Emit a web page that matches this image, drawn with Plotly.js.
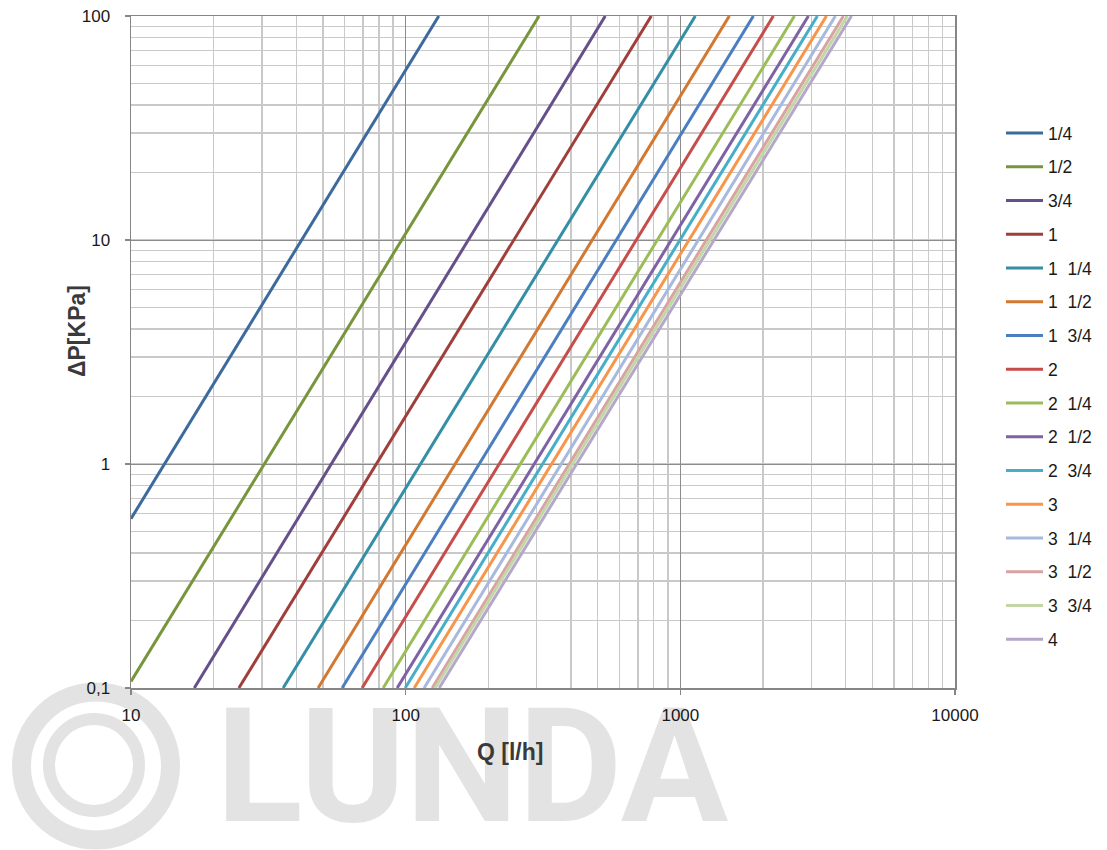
<!DOCTYPE html>
<html>
<head>
<meta charset="utf-8">
<script src="https://cdn.plot.ly/plotly-3.0.1.min.js"></script>
<style>
  html, body { margin: 0; padding: 0; background: #ffffff; }
  #chart { width: 1107px; height: 850px; }
</style>
</head>
<body>
<div id="chart"></div>
<script>
// Valve sizes (legend labels)
const sizes = ["1/4", "1/2", "3/4", "1", "1\u00a0\u00a01/4", "1\u00a0\u00a01/2", "1\u00a0\u00a03/4", "2",
               "2\u00a0\u00a01/4", "2\u00a0\u00a01/2", "2\u00a0\u00a03/4", "3", "3\u00a0\u00a01/4",
               "3\u00a0\u00a01/2", "3\u00a0\u00a03/4", "4"];
// Start point of each line (flow Q [l/h], pressure drop ΔP [kPa])
const qStart  = [10, 10, 17.0, 24.7, 35.8, 48.0, 58.7, 69.4, 82.8, 93.1, 99.6, 107.4, 116.7, 124.9, 128.0, 132.4];
const dpStart = [0.57, 0.107, 0.1, 0.1, 0.1, 0.1, 0.1, 0.1, 0.1, 0.1, 0.1, 0.1, 0.1, 0.1, 0.1, 0.1];
// End point of each line (at the top of the chart)
const qEnd    = [132, 306, 533, 784, 1134, 1508, 1845, 2181, 2603, 2926, 3155, 3404, 3670, 3925, 4056, 4198];
const dpEnd   = [100, 100, 100, 100, 100, 100, 100, 100, 100, 100, 100, 100, 100, 100, 100, 100];
// Colours
const colors = ["#3d6a9e", "#77963c", "#65508a", "#a03e3b", "#348ea6", "#d27831", "#4a7ec0", "#c64d4a",
                "#9bbd58", "#7e62a3", "#47aec8", "#f7964a", "#a7b9dd", "#d9a3a2", "#c3d6a6", "#b5a7c9"];
// Axis ticks
const xTickVals = [10, 100, 1000, 10000];
const xTickText = ["10", "100", "1000", "10000"];
const yTickVals = [0.1, 1, 10, 100];
const yTickText = ["0,1", "1", "10", "100"];

const traces = sizes.map((s, i) => ({
  type: "scatter",
  mode: "lines",
  name: s,
  legendgroup: "g" + i,
  x: [qStart[i], qEnd[i]],
  y: [dpStart[i], dpEnd[i]],
  line: { color: colors[i], width: 3 },
  hoverinfo: "x+y+name"
}));

const W = 1107, H = 850;
const L = 131, R = 955, T = 16, B = 688;
const px = v => (v - L) / (R - L);
const py = v => (B - v) / (B - T);

const wm = "rgba(0,0,0,0.11)";
const tickFont = { family: "Liberation Sans, Arial, sans-serif", size: 17, color: "#1a1a1a" };
const layout = {
  width: W, height: H,
  margin: { l: L, r: W - R, t: T, b: H - B, pad: 0, autoexpand: false },
  paper_bgcolor: "#ffffff",
  plot_bgcolor: "rgba(0,0,0,0)",
  font: { family: "Liberation Sans, Arial, sans-serif", size: 17, color: "#1a1a1a" },
  showlegend: true,
  legend: {
    x: px(1001), y: py(115), xanchor: "left", yanchor: "top",
    font: { family: "Liberation Sans, Arial, sans-serif", size: 17.5, color: "#1a1a1a" },
    tracegroupgap: 8,
    itemwidth: 37,
    bgcolor: "rgba(0,0,0,0)"
  },
  xaxis: {
    type: "log",
    range: [1, 4],
    automargin: false,
    tickmode: "array", tickvals: xTickVals, ticktext: xTickText,
    tickfont: tickFont,
    ticks: "outside", ticklen: 5, tickcolor: "#868686", tickwidth: 1.5,
    ticklabelstandoff: 6,
    showline: true, linecolor: "#868686", linewidth: 1.5, mirror: true,
    showgrid: true, gridcolor: "#8c8c8c", gridwidth: 1,
    minor: { dtick: "D1", showgrid: true, gridcolor: "#c9c9c9", gridwidth: 1.5, ticks: "" },
    zeroline: false
  },
  yaxis: {
    type: "log",
    range: [-1, 2],
    automargin: false,
    tickmode: "array", tickvals: yTickVals, ticktext: yTickText,
    tickfont: tickFont,
    ticks: "outside", ticklen: 5, tickcolor: "#868686", tickwidth: 1.5,
    ticklabelstandoff: 11,
    showline: true, linecolor: "#868686", linewidth: 1.5, mirror: true,
    showgrid: true, gridcolor: "#8c8c8c", gridwidth: 1,
    minor: { dtick: "D1", showgrid: true, gridcolor: "#c9c9c9", gridwidth: 1.5, ticks: "" },
    zeroline: false
  },
  shapes: [
    { type: "circle", xref: "paper", yref: "paper", layer: "below",
      x0: px(96 - 74.5), x1: px(96 + 74.5), y0: py(766 + 74), y1: py(766 - 74),
      line: { color: "#e3e3e3", width: 19 }, fillcolor: "rgba(0,0,0,0)" },
    { type: "circle", xref: "paper", yref: "paper", layer: "below",
      x0: px(94 - 45), x1: px(94 + 45), y0: py(765 + 46), y1: py(765 - 46),
      line: { color: "#e3e3e3", width: 12 }, fillcolor: "rgba(0,0,0,0)" }
  ],
  annotations: [
    { text: "LUNDA", xref: "paper", yref: "paper", x: px(472), y: py(766),
      xanchor: "center", yanchor: "middle", showarrow: false,
      font: { family: "Roboto, Liberation Sans, sans-serif", size: 160, color: wm, weight: 700 } },
    { text: "<b>Q [l/h]</b>", xref: "paper", yref: "paper", x: px(510), y: py(752),
      xanchor: "center", yanchor: "middle", showarrow: false,
      font: { family: "Liberation Sans, Arial, sans-serif", size: 23, color: "#3a3a3a" } },
    { text: "<b>ΔP[KPa]</b>", xref: "paper", yref: "paper", x: px(77), y: py(331),
      xanchor: "center", yanchor: "middle", showarrow: false, textangle: -90,
      font: { family: "Liberation Sans, Arial, sans-serif", size: 23, color: "#3a3a3a" } }
  ]
};

Plotly.newPlot("chart", traces, layout, { staticPlot: true, displayModeBar: false });
</script>
</body>
</html>
